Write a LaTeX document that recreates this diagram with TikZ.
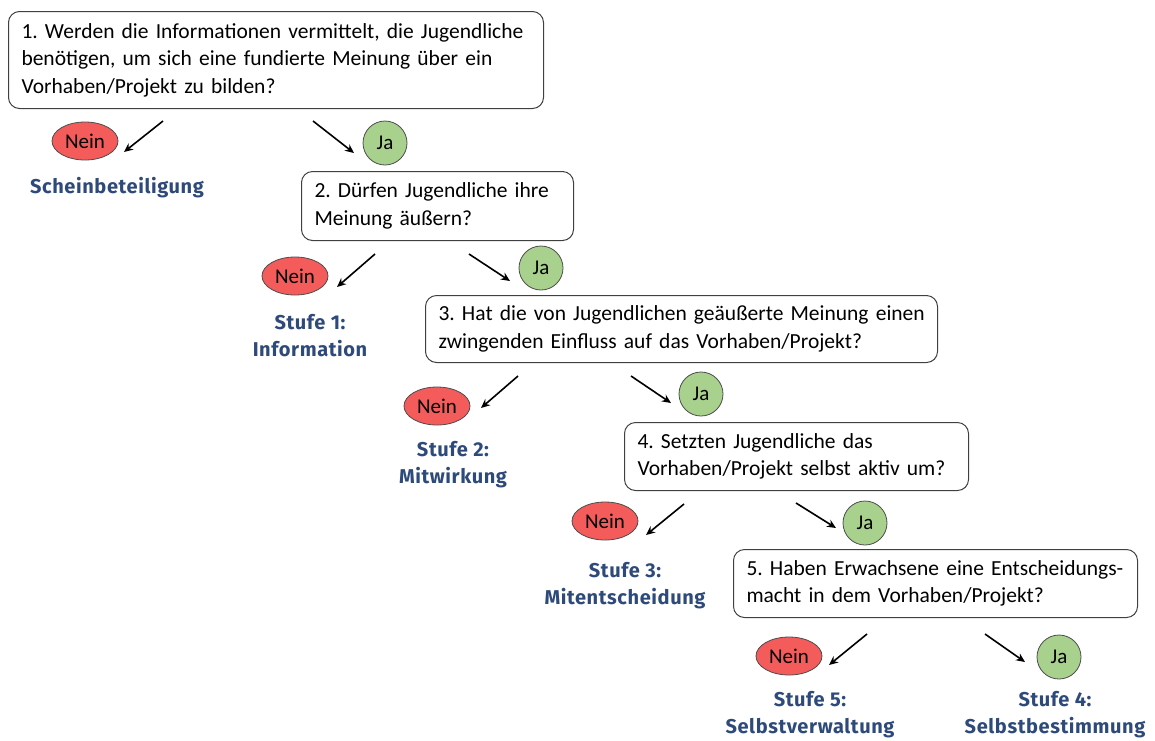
\documentclass[tikz,border=0pt]{standalone}
\usepackage{fontspec}
\setmainfont{Carlito}
\newfontfamily\labfont[LetterSpace=3]{Fira Sans}
\usetikzlibrary{arrows.meta,shapes.geometric}
\definecolor{neinred}{HTML}{F45B5B}
\definecolor{jagreen}{HTML}{A9D18E}
\definecolor{labblue}{HTML}{2E4A7A}
\tikzset{
  qbox/.style={draw=black!75, line width=1pt, rounded corners=11pt, fill=white,
    anchor=north west, align=left, inner xsep=13pt, inner ysep=0pt,
    font=\fontsize{21.5}{27.5}\selectfont},
  nein/.style={ellipse, draw=black!70, line width=0.8pt, fill=neinred, minimum width=66pt,
    minimum height=38pt, inner sep=0pt, font=\fontsize{21}{22}\selectfont},
  ja/.style={circle, draw=black!70, line width=0.8pt, fill=jagreen, minimum size=44pt,
    inner sep=0pt, font=\fontsize{21}{22}\selectfont},
  stufe/.style={align=center, text=labblue, font=\labfont\bfseries\fontsize{20}{27}\selectfont, inner sep=0pt},
  arr/.style={-{Stealth[length=9pt,width=8pt]}, line width=1.6pt, black}
}
\frenchspacing
\begin{document}
\begin{tikzpicture}[x=1pt,y=-1pt]
\useasboundingbox (0,0) rectangle (1155,740);
% boxes
\node[qbox, minimum width=535pt, minimum height=97pt, text width=509pt] (q1) at (8,11)
  {\mbox{1. Werden die Informationen vermittelt, die Jugendliche}\\\mbox{benötigen, um sich eine fundierte Meinung über ein}\\\mbox{Vorhaben/Projekt zu bilden?}};
\node[qbox, minimum width=272pt, minimum height=69pt, text width=246pt] (q2) at (301,171)
  {\mbox{2. Dürfen Jugendliche ihre}\\\mbox{Meinung äußern?}};
\node[qbox, minimum width=512pt, minimum height=67pt, text width=486pt] (q3) at (425,295)
  {\mbox{3. Hat die von Jugendlichen geäußerte Meinung einen}\\\mbox{zwingenden Einfluss auf das Vorhaben/Projekt?}};
\node[qbox, minimum width=344pt, minimum height=68pt, text width=318pt] (q4) at (624,422)
  {\mbox{4. Setzten Jugendliche das}\\\mbox{Vorhaben/Projekt selbst aktiv um?}};
\node[qbox, minimum width=404pt, minimum height=68pt, text width=378pt] (q5) at (733,549)
  {\mbox{5. Haben Erwachsene eine Entscheidungs-}\\\mbox{macht in dem Vorhaben/Projekt?}};
% answers
\node[nein] (n1) at (85,141) {Nein};
\node[ja] (j1) at (385,143) {Ja};
\node[nein] (n2) at (295,276) {Nein};
\node[ja] (j2) at (541,268) {Ja};
\node[nein] (n3) at (437,406) {Nein};
\node[ja] (j3) at (701,394) {Ja};
\node[nein] (n4) at (605,521) {Nein};
\node[ja] (j4) at (865,523) {Ja};
\node[nein] (n5) at (789,656) {Nein};
\node[ja] (j5) at (1059,657) {Ja};
% labels
\node[stufe] (s0) at (117,188) {Scheinbeteiligung};
\node[stufe] (s1) at (310,336) {Stufe 1:\\Information};
\node[stufe] (s2) at (453,465) {Stufe 2:\\Mitwirkung};
\node[stufe] (s3) at (625,586) {Stufe 3:\\Mitentscheidung};
\node[stufe] (s5) at (810,715) {Stufe 5:\\Selbstverwaltung};
\node[stufe] (s4) at (1055,715) {Stufe 4:\\Selbstbestimmung};
% arrow endpoints
\coordinate (a1s) at (163,121); \coordinate (a1e) at (124,152);
\coordinate (b1s) at (313,121); \coordinate (b1e) at (354,153);
\coordinate (a2s) at (375,254); \coordinate (a2e) at (337,287);
\coordinate (b2s) at (469,254); \coordinate (b2e) at (510,281);
\coordinate (a3s) at (518,376); \coordinate (a3e) at (481,408);
\coordinate (b3s) at (631,376); \coordinate (b3e) at (671,403);
\coordinate (a4s) at (684,504); \coordinate (a4e) at (646,535);
\coordinate (b4s) at (796,503); \coordinate (b4e) at (836,528);
\coordinate (a5s) at (867,634); \coordinate (a5e) at (829,665);
\coordinate (b5s) at (985,634); \coordinate (b5e) at (1025,662);
\foreach \p in {a1,b1,a2,b2,a3,b3,a4,b4,a5,b5}
  \draw[arr] (\p s) -- (\p e);
\end{tikzpicture}
\end{document}
